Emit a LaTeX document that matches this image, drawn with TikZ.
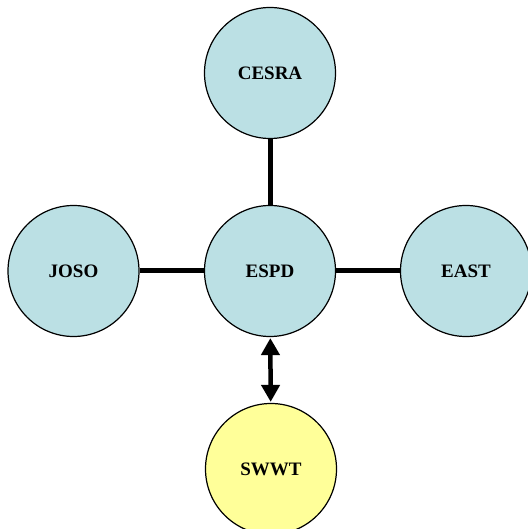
\documentclass[tikz,border=0pt]{standalone}
\usepackage{fontspec}
\setmainfont{Liberation Serif}
\usetikzlibrary{arrows.meta}
\definecolor{bluefill}{HTML}{BBE0E4}
\definecolor{yellowfill}{HTML}{FFFF99}
\tikzset{
  org/.style={circle, draw=black, line width=1.2pt, fill=bluefill, minimum size=131pt, inner sep=0pt,
    font=\fontsize{19}{22}\selectfont\bfseries},
  orgy/.style={org, fill=yellowfill},
  link/.style={line width=5pt},
  dlink/.style={line width=4.5pt, {Triangle[length=17pt,width=18pt]}-{Triangle[length=17pt,width=18pt]}, shorten <=1pt, shorten >=1pt}
}
\begin{document}
\begin{tikzpicture}[x=1pt,y=1pt]
\useasboundingbox (0,0) rectangle (527,529);
\node[org] (cesra) at (270,456) {CESRA};
\node[org] (espd) at (270,258) {ESPD};
\node[org] (joso) at (73.5,258) {JOSO};
\node[org] (east) at (466,258) {EAST};
\node[orgy] (swwt) at (271,60) {SWWT};
\draw[link] (cesra) -- (espd);
\draw[link] (joso) -- (espd);
\draw[link] (east) -- (espd);
\draw[dlink] (espd) -- (swwt);
\end{tikzpicture}
\end{document}
